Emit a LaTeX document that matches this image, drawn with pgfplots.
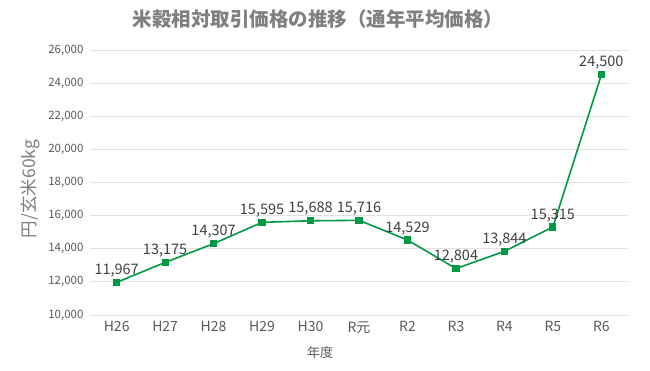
\documentclass[border=0pt]{standalone}
\usepackage{fontspec}
\setmainfont{Noto Sans CJK JP}
\usepackage{pgfplots}
\pgfplotsset{compat=1.18}
\definecolor{lgreen}{HTML}{009944}
\definecolor{titlegray}{HTML}{808080}
\definecolor{txt}{HTML}{404040}
\definecolor{tick}{HTML}{595959}
\definecolor{gridc}{HTML}{EADEDE}
\begin{document}
\begin{tikzpicture}[x=1pt,y=1pt]
\useasboundingbox (0,0) rectangle (650,370);
\node[font=\fontsize{19.5}{22}\selectfont\bfseries, text=titlegray] at (318,351) {米穀相対取引価格の推移（通年平均価格）};
\node[font=\fontsize{17.5}{20}\selectfont, text=titlegray, rotate=90] at (30,181) {円/玄米60kg};
\node[font=\fontsize{13}{15}\selectfont, text=tick] at (320,17) {年度};
\begin{axis}[
  at={(90pt,55pt)}, anchor=south west,
  scale only axis, width=538pt, height=265pt,
  xmin=-0.55, xmax=10.55, ymin=10000, ymax=26000,
  ytick={10000,12000,...,26000},
  xtick={0,...,10},
  xticklabels={H26,H27,H28,H29,H30,R元,R2,R3,R4,R5,R6},
  axis line style={draw=none},
  major tick length=0pt,
  ymajorgrids, grid style={gridc, line width=0.8pt},
  scaled y ticks=false,
  /pgf/number format/assume math mode=true,
  /pgf/number format/1000 sep={,},
  yticklabel style={font=\fontsize{11.5}{13}\selectfont, text=tick, xshift=-3pt},
  xticklabel style={font=\fontsize{14}{16}\selectfont, text=tick, yshift=-3pt},
  nodes near coords,
  every node near coord/.append style={font=\fontsize{14.5}{17}\selectfont, text=txt, yshift=1pt,
    /pgf/number format/fixed, /pgf/number format/precision=0},
  clip=false,
]
\addplot[lgreen, line width=1.6pt, mark=square*, mark size=2.8pt, mark options={solid,fill=lgreen}] coordinates {
(0,11967) (1,13175) (2,14307) (3,15595) (4,15688) (5,15716) (6,14529) (7,12804) (8,13844) (9,15315) (10,24500)
};
\end{axis}
\end{tikzpicture}
\end{document}
